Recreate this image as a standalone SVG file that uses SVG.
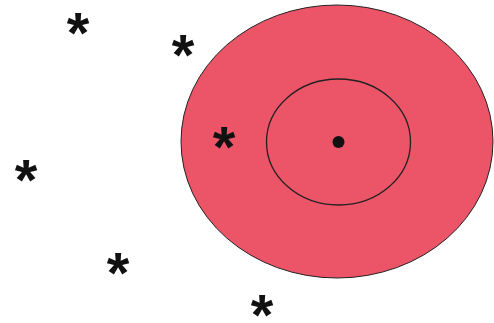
<svg xmlns="http://www.w3.org/2000/svg" width="494" height="323" viewBox="0 0 494 323">
<style>
.star{font-family:"Liberation Sans",Arial,sans-serif;font-weight:bold;font-size:58px;fill:#111;text-anchor:middle}
</style>
<rect width="494" height="323" fill="#fff"/>
<g id="outer">
<ellipse cx="337" cy="141.5" rx="156" ry="136.5" fill="#EC5468" stroke="#222" stroke-width="1"/>
</g>
<g id="inner">
<ellipse cx="338.5" cy="142" rx="72" ry="63" fill="none" stroke="#222" stroke-width="1.3"/>
</g>
<g id="center">
<circle cx="338.5" cy="142" r="6" fill="#111"/>
</g>
<g id="stars">
<text class="star" x="78" y="53">*</text>
<text class="star" x="183" y="75">*</text>
<text class="star" x="224" y="167">*</text>
<text class="star" x="26" y="200">*</text>
<text class="star" x="118" y="293">*</text>
<text class="star" x="262" y="335">*</text>
</g>
</svg>
